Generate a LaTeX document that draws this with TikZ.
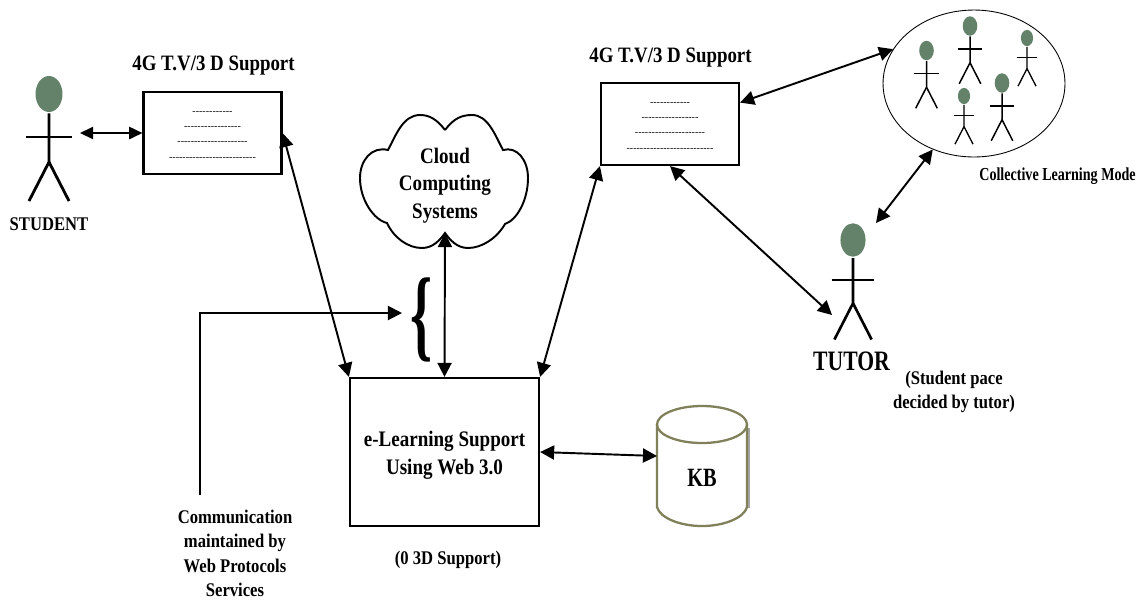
\documentclass[tikz,border=0pt]{standalone}
\usepackage{fontspec}
\setmainfont{Liberation Serif}[FakeStretch=0.86]
\newfontfamily\dashfont{Liberation Serif}
\newfontfamily\narrowfont{Liberation Serif}[FakeStretch=0.77]
\newfontfamily\bracefont{Liberation Serif}[FakeStretch=0.55]
\usetikzlibrary{arrows.meta, positioning, shapes.geometric}
\definecolor{headgreen}{HTML}{64826A}
\definecolor{kbolive}{HTML}{80805A}
\tikzset{
	head/.style={ellipse, fill=headgreen, inner sep=0pt},
	screen/.style={draw=black, line width=1.25pt, minimum width=2.76cm, minimum height=1.64cm, inner sep=0pt, align=center, font=\dashfont\fontsize{5.7}{8.6}\selectfont},
	label/.style={align=center, inner sep=0pt, font=\fontsize{11}{13.9}\selectfont\bfseries},
	biglabel/.style={align=center, inner sep=0pt, font=\fontsize{12.6}{15.8}\selectfont\bfseries},
	link/.style={<->, line width=1.1pt},
}
\newcommand\person[5]{
	\begin{scope}[shift={(#2,#3)}, scale=#4, line width=#5]
		\node[head, minimum width=#4*0.54cm, minimum height=#4*0.72cm] (#1) at (0,0) {};
		\draw (#1.south) -- (0,68) -- (-20,107);
		\draw (0,68) -- (20,107);
		\draw (-23,43) -- (23,43);
	\end{scope}
}

\begin{document}
\begin{tikzpicture}[x=0.02cm, y=-0.02cm, >={Triangle[length=8pt, width=8pt]}]
	\useasboundingbox (0,0) rectangle (1145,600);

	% people
	\person{student}{49}{94}{1}{1.6pt}
	\person{tutor}{853}{240}{0.93}{1.5pt}
	\node[draw=black, line width=0.5pt, ellipse, minimum width=3.64cm, minimum height=2.94cm, inner sep=0pt] (group) at (974,83.5) {};
	\person{pupila}{926.5}{50.5}{0.54}{0.85pt}
	\person{pupilb}{970}{26}{0.54}{0.85pt}
	\person{pupilc}{1027}{38}{0.45}{0.75pt}
	\person{pupild}{964}{96}{0.45}{0.75pt}
	\person{pupile}{1002}{83}{0.54}{0.85pt}

	% boxes
	\node[screen] (box1) at (212.5,133) {\rule{0pt}{5pt}------------\\-----------------\\---------------------\\--------------------------};
	\node[screen] (box2) at (670,124) {\rule{0pt}{5pt}------------\\-----------------\\---------------------\\--------------------------};
	\node[draw=black, line width=1.25pt, minimum width=3.78cm, minimum height=2.96cm, inner sep=0pt, biglabel] (elearn) at (444.5,452) {\rule{0pt}{12.5pt}e-Learning Support\\Using Web 3.0};

	% cloud
	\draw[line width=1.1pt] (445,130) .. controls (436,118) and (428,115) .. (420,115)
		.. controls (403,115) and (396,135) .. (388,150)
		.. controls (372,146) and (360,160) .. (360,178)
		.. controls (360,200) and (374,220) .. (387,223)
		.. controls (394,238) and (408,248) .. (422,248)
		.. controls (433,248) and (440,240) .. (445,233)
		.. controls (450,240) and (457,248) .. (468,248)
		.. controls (482,248) and (497,238) .. (505,224)
		.. controls (517,220) and (528,200) .. (528,178)
		.. controls (528,160) and (517,146) .. (503,150)
		.. controls (495,135) and (488,115) .. (472,115)
		.. controls (462,115) and (454,118) .. (445,130);
	\node[biglabel] (cloud) at (445,185.5) {Cloud\\Computing\\Systems};
	\coordinate (cloudfoot) at (445,233);

	% knowledge base
	\draw[gray!70, line width=0.8pt] (749,428) -- (749,508);
	\draw[kbolive, line width=1.3pt] (657,424) -- (657,507) .. controls (660,518) and (680,526) .. (702,526) .. controls (724,526) and (744,518) .. (747,507) -- (747,424);
	\draw[kbolive, line width=1.3pt] (702,424.5) ellipse (45 and 18.5);
	\node[label] (kb) at (702,478) {\narrowfont\fontsize{15}{15}\selectfont\bfseries KB};
	\coordinate (kbleft) at (657,456);

	% brace
	\node[inner sep=0pt, font=\bracefont\fontsize{58}{58}\selectfont\bfseries] (brace) at (422,320) {\{};
	\coordinate (braceleft) at (402,313);

	% text
	\node[label] (title1) at (213.5,66) {\fontsize{12.5}{14}\selectfont 4G T.V/3 D Support};
	\node[label] (title2) at (670.5,58) {\fontsize{12.5}{14}\selectfont 4G T.V/3 D Support};
	\node[label] (studentname) at (49,224) {STUDENT};
	\node[label, font=\narrowfont\fontsize{10.4}{14}\selectfont\bfseries] (groupname) at (1057.5,176) {Collective Learning Mode};
	\node[label] (tutorname) at (851.5,361) {\narrowfont\fontsize{16}{16}\selectfont\bfseries TUTOR};
	\node[label] (pace) at (954,392) {(Student pace\\decided by tutor)};
	\node[label] (comm) at (235,553.5) {Communication\\maintained by\\Web Protocols\\Services};
	\node[label] (nosupport) at (448,560) {(0 3D Support)};
	\coordinate (commtop) at (200,495);

	% links
	\coordinate (studentside) at (80,133);
	\coordinate (tutorarm) at (832,315);
	\coordinate (tutorhead) at (876,223);
	\draw[<->, line width=0.85pt, >={Triangle[length=7.5pt, width=7pt]}] (studentside) -- (box1.west);
	\draw[link] (box1.east) -- (elearn.north west);
	\draw[link] (box2.south west) -- (elearn.north east);
	\draw[link] (box2.17) -- (group.157.5);
	\draw[link] (box2.south) -- (tutorarm);
	\draw[link] (group.238) -- (tutorhead);
	\draw[link] (cloudfoot) -- (elearn.north);
	\draw[link] (elearn.east) -- (kbleft);
	\draw[->, line width=1.1pt] (commtop) |- (braceleft);
\end{tikzpicture}
\end{document}
